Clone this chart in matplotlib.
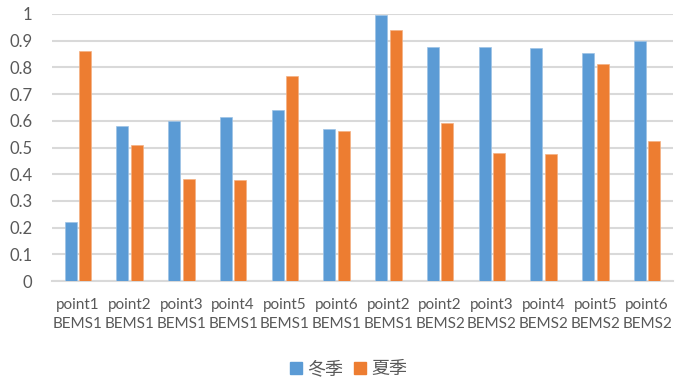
import matplotlib
matplotlib.use("Agg")
import matplotlib.pyplot as plt
import numpy as np
from matplotlib.patches import Patch

plt.rcParams['font.family'] = ['Lato', 'Noto Sans CJK SC', 'DejaVu Sans']

# Per-site ratios for winter and summer
points = ['point1', 'point2', 'point3', 'point4', 'point5', 'point6',
          'point2', 'point2', 'point3', 'point4', 'point5', 'point6']
systems = ['BEMS1'] * 7 + ['BEMS2'] * 5
winter = [0.22, 0.58, 0.60, 0.613, 0.64, 0.57, 0.996, 0.878, 0.875, 0.873, 0.853, 0.898]
summer = [0.86, 0.508, 0.383, 0.379, 0.767, 0.563, 0.94, 0.592, 0.479, 0.477, 0.811, 0.524]
series_names = ['冬季', '夏季']

blue = '#5B9BD5'
orange = '#ED7D31'
text_gray = '#595959'

fig = plt.figure(figsize=(6.86, 3.83), dpi=100)
ax = fig.add_axes([52 / 686, 1 - 281 / 383, (673 - 52) / 686, (281 - 14) / 383])

x = np.arange(len(points))
w = 0.23
ax.bar(x - 0.14, winter, width=w, color=blue, edgecolor='#9DC3E6', linewidth=0.5, zorder=3)
ax.bar(x + 0.14, summer, width=w, color=orange, edgecolor='#F4B183', linewidth=0.5, zorder=3)

ax.set_xlim(-0.5, len(points) - 0.5)
ax.set_ylim(0, 1)
ax.set_yticks(np.arange(0, 1.01, 0.1))
ax.set_yticklabels(['0'] + [f'{v:.1f}' for v in np.arange(0.1, 0.95, 0.1)] + ['1'])
ax.yaxis.grid(True, color='#D9D9D9', linewidth=1.5, zorder=0)
ax.set_axisbelow(True)

ax.set_xticks(x)
ax.set_xticklabels([f'{p}\n{s}' for p, s in zip(points, systems)], linespacing=1.45,
                   fontsize=11)

for side in ['top', 'right', 'left']:
    ax.spines[side].set_visible(False)
ax.spines['bottom'].set_color('#D9D9D9')
ax.spines['bottom'].set_linewidth(1.5)

ax.tick_params(axis='both', length=0, colors=text_gray)
ax.tick_params(axis='y', pad=14, labelsize=12)
ax.tick_params(axis='x', pad=12)

handles = [Patch(color=blue), Patch(color=orange)]
leg = fig.legend(handles, series_names, loc='center', bbox_to_anchor=(349 / 686, 1 - 369 / 383),
                 ncol=2, frameon=False, handlelength=0.65, handleheight=0.65,
                 handletextpad=0.3, columnspacing=0.6, borderpad=0,
                 prop={'family': ['Noto Sans CJK SC'], 'size': 13})
for t in leg.get_texts():
    t.set_color(text_gray)

fig.savefig('out.png', dpi=100)
